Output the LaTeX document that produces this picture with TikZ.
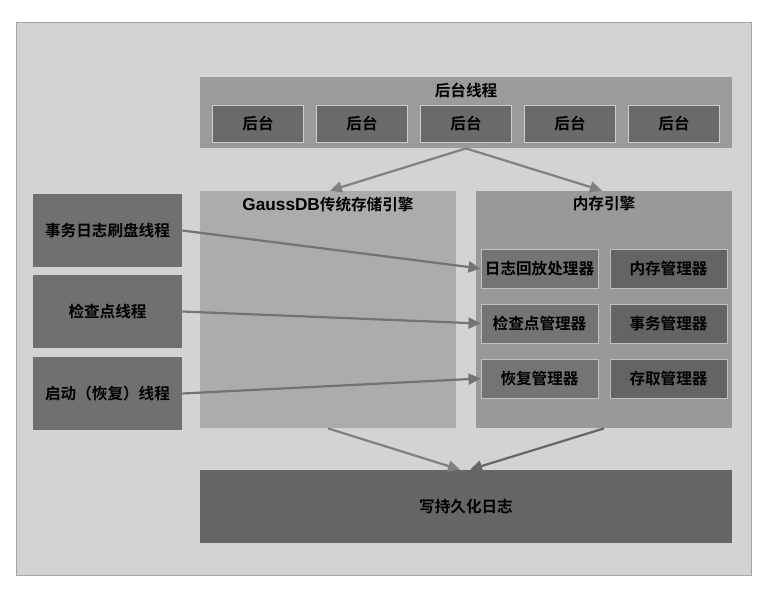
\documentclass[tikz,border=0pt]{standalone}
\usepackage{fontspec}
\setmainfont{Noto Sans CJK SC}[BoldFont={* Bold}]
\newfontfamily\latinfont{Liberation Sans}
\usepackage{tikz}
\usetikzlibrary{calc,positioning,arrows.meta}
\usepackage{xcolor}
\definecolor{panelc}{RGB}{211,211,211}
\definecolor{threadc}{RGB}{155,155,155}
\definecolor{cellc}{RGB}{106,106,106}
\definecolor{gaussc}{RGB}{172,172,172}
\definecolor{memc}{RGB}{153,153,153}
\definecolor{mgrc}{RGB}{116,116,116}
\definecolor{mgrdc}{RGB}{100,100,100}
\definecolor{sidec}{RGB}{112,112,112}
\definecolor{logc}{RGB}{102,102,102}
\definecolor{arrc}{RGB}{128,128,128}
\tikzset{
  blk/.style={rectangle,inner sep=0pt,font=\fontsize{7.8pt}{9pt}\selectfont\bfseries},
  cell/.style={blk,draw=black!20,line width=0.5pt,fill=cellc,minimum width=45.5pt,minimum height=18.5pt},
  mgr/.style={blk,draw=black!25,line width=0.5pt,minimum width=58.5pt,minimum height=19.5pt},
  side/.style={blk,fill=sidec,minimum width=74.5pt,minimum height=36.5pt},
  eng/.style={blk,minimum width=128pt,minimum height=118.5pt},
  ttl/.style={font=\fontsize{7.8pt}{9pt}\selectfont\bfseries},
  flow/.style={-{Triangle[length=6pt,width=5.5pt]},line width=1.1pt,arrc},
}

\begin{document}
\begin{tikzpicture}[x=0.5pt,y=-0.5pt]
  \useasboundingbox[fill=white] (0,0) rectangle (764,590);
  \node[rectangle,draw=black!35,line width=0.5pt,fill=panelc,minimum width=367.5pt,minimum height=276.5pt](panel) at (383.5,298.5){};
  % background threads
  \node[blk,fill=threadc,minimum width=266pt,minimum height=35.5pt](bg) at (466,112.5){};
  \node[ttl](bgt) at (466,90){后台线程};
  \foreach \i in {0,...,4}
    {\node[cell](c\i) at (258+104*\i,123.5){后台};}
  % engines
  \node[eng,fill=gaussc](gauss) at (328,309.5){};
  \node[ttl](gausst) at (328,205){{\latinfont\fontsize{8.6pt}{9pt}\selectfont GaussDB}传统存储引擎};
  \node[eng,fill=memc](mem) at (604,309.5){};
  \node[ttl](memt) at (604,204){内存引擎};
  \node[mgr,fill=mgrc](m1) at (539.5,268.5){日志回放处理器};
  \node[mgr,fill=mgrc](m2) at (539.5,323.5){检查点管理器};
  \node[mgr,fill=mgrc](m3) at (539.5,378.5){恢复管理器};
  \node[mgr,fill=mgrdc](r1) at (668.5,268.5){内存管理器};
  \node[mgr,fill=mgrdc](r2) at (668.5,323.5){事务管理器};
  \node[mgr,fill=mgrdc](r3) at (668.5,378.5){存取管理器};
  % side threads
  \node[side](s1) at (107.5,230.5){事务日志刷盘线程};
  \node[side](s2) at (107.5,311.5){检查点线程};
  \node[side](s3) at (107.5,393.5){启动（恢复）线程};
  % log
  \node[blk,fill=logc,minimum width=266pt,minimum height=36.5pt](log) at (466,506.5){写持久化日志};
  \draw[flow] (bg.south) -- ([xshift=1pt]gauss.north);
  \draw[flow] (bg.south) -- ([xshift=-1pt]mem.north);
  \draw[flow,black!55] (s1.east) -- (m1.west);
  \draw[flow,black!55] (s2.east) -- (m2.west);
  \draw[flow,black!55] (s3.east) -- (m3.west);
  \draw[flow] (gauss.south) -- ([xshift=-3pt]log.north);
  \draw[flow,black!60] (mem.south) -- ([xshift=2pt]log.north);
\end{tikzpicture}
\end{document}
